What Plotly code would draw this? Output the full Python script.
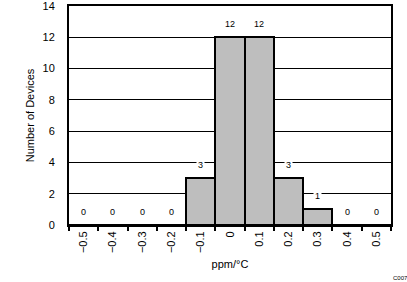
import plotly.graph_objects as go

categories = ["−0.5", "−0.4", "−0.3", "−0.2", "−0.1", "0", "0.1", "0.2", "0.3", "0.4", "0.5"]
counts = [0, 0, 0, 0, 3, 12, 12, 3, 1, 0, 0]
y_ticks = [0, 2, 4, 6, 8, 10, 12, 14]

font_family = "Liberation Sans, Arial, Helvetica, sans-serif"

fig = go.Figure()
fig.add_trace(go.Bar(
    x=categories, y=counts,
    marker=dict(color="#bebebe", line=dict(color="black", width=2)),
    hoverinfo="skip",
))

for i, v in enumerate(counts):
    fig.add_annotation(
        x=i, y=v, text=str(v), showarrow=False, yshift=13,
        bgcolor="white", borderpad=1,
        font=dict(family=font_family, size=9, color="black"),
    )

fig.add_annotation(
    xref="paper", yref="paper", x=1.06, y=-0.22, text="C007",
    showarrow=False, font=dict(family=font_family, size=6, color="black"),
    xanchor="right", yanchor="top",
)

fig.update_layout(
    width=407, height=282,
    margin=dict(l=69, r=16, t=6, b=57, autoexpand=False),
    paper_bgcolor="white", plot_bgcolor="white",
    bargap=0, showlegend=False,
    font=dict(family=font_family, size=11, color="black"),
    xaxis=dict(
        type="category", tickangle=-90, ticks="outside", tickson="boundaries",
        ticklen=4, tickwidth=2, tickcolor="black", automargin=False,
        showline=True, linecolor="black", linewidth=2, mirror=True,
        showgrid=False,
        title=dict(text="ppm/°C", font=dict(size=11), standoff=8),
        tickfont=dict(size=11),
    ),
    yaxis=dict(
        range=[0, 14], tickvals=y_ticks, ticks="", automargin=False,
        showline=True, linecolor="black", linewidth=2, mirror=True,
        showgrid=True, gridcolor="black", gridwidth=1,
        zeroline=False, ticklabelstandoff=10, ticklabeloverflow="allow",
        title=dict(text="Number of Devices", font=dict(size=11), standoff=6),
        tickfont=dict(size=11),
    ),
)

fig.write_html("out.html")
